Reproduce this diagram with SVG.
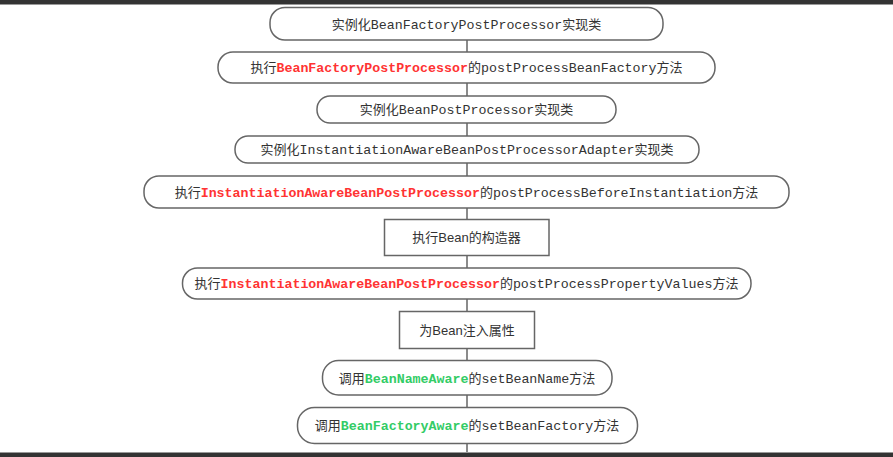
<svg xmlns="http://www.w3.org/2000/svg" width="893" height="457" viewBox="0 0 893 457">
<style>
.n{fill:#fff;stroke:#666;stroke-width:1.5}
.e{stroke:#666;stroke-width:1.5;fill:none}
text{fill:#333;text-anchor:middle}
.c{font-family:"Noto Sans CJK SC","Liberation Sans",sans-serif;font-size:13px}
.s{font-family:"Liberation Sans","Noto Sans CJK SC",sans-serif;font-size:13px}
.m{font-family:"Liberation Mono",monospace;font-size:13.3px}
.r{fill:#f33;font-weight:bold}
.g{fill:#33cc66;font-weight:bold}
</style>
<rect x="0" y="0" width="893" height="457" fill="#fff"/>
<g id="connectors">
<path class="e" d="M467 40V52M467 83V96M467 123V136M467 163V176M467 208V219.5M467 255.5V268M467 299V311.5M467 348.5V360.5M467 395V407.5M467 443.5V457"/>
</g>
<g id="n1"><rect class="n" x="270" y="7.5" width="393" height="32.5" rx="15"/>
<text x="466.5" y="28.5"><tspan class="c">实例化</tspan><tspan class="m">BeanFactoryPostProcessor</tspan><tspan class="c">实现类</tspan></text></g>
<g id="n2"><rect class="n" x="218" y="52" width="497" height="31" rx="15"/>
<text x="466.5" y="72"><tspan class="c">执行</tspan><tspan class="m r">BeanFactoryPostProcessor</tspan><tspan class="c">的</tspan><tspan class="m">postProcessBeanFactory</tspan><tspan class="c">方法</tspan></text></g>
<g id="n3"><rect class="n" x="317" y="96" width="299" height="27" rx="13"/>
<text x="466.5" y="114"><tspan class="c">实例化</tspan><tspan class="m">BeanPostProcessor</tspan><tspan class="c">实现类</tspan></text></g>
<g id="n4"><rect class="n" x="235" y="136" width="464" height="27" rx="13"/>
<text x="467" y="154"><tspan class="c">实例化</tspan><tspan class="m">InstantiationAwareBeanPostProcessorAdapter</tspan><tspan class="c">实现类</tspan></text></g>
<g id="n5"><rect class="n" x="144" y="176" width="645" height="32" rx="15"/>
<text x="466.5" y="196.5"><tspan class="c">执行</tspan><tspan class="m r">InstantiationAwareBeanPostProcessor</tspan><tspan class="c">的</tspan><tspan class="m">postProcessBeforeInstantiation</tspan><tspan class="c">方法</tspan></text></g>
<g id="n6"><rect class="n" x="384.5" y="219.5" width="164.5" height="36"/>
<text class="s" x="466.5" y="242">执行Bean的构造器</text></g>
<g id="n7"><rect class="n" x="182.5" y="268" width="568.5" height="31" rx="15"/>
<text x="466.5" y="288"><tspan class="c">执行</tspan><tspan class="m r">InstantiationAwareBeanPostProcessor</tspan><tspan class="c">的</tspan><tspan class="m">postProcessPropertyValues</tspan><tspan class="c">方法</tspan></text></g>
<g id="n8"><rect class="n" x="399.5" y="311.5" width="135" height="37"/>
<text class="s" x="467" y="334.5">为Bean注入属性</text></g>
<g id="n9"><rect class="n" x="322.5" y="360.5" width="289.5" height="34.5" rx="16"/>
<text x="467" y="382.5"><tspan class="c">调用</tspan><tspan class="m g">BeanNameAware</tspan><tspan class="c">的</tspan><tspan class="m">setBeanName</tspan><tspan class="c">方法</tspan></text></g>
<g id="n10"><rect class="n" x="297.5" y="407.5" width="340" height="36" rx="17"/>
<text x="467" y="430"><tspan class="c">调用</tspan><tspan class="m g">BeanFactoryAware</tspan><tspan class="c">的</tspan><tspan class="m">setBeanFactory</tspan><tspan class="c">方法</tspan></text></g>
<rect x="0" y="0" width="893" height="4" fill="#333"/>
<rect x="0" y="4" width="893" height="1" fill="#999"/>
<rect x="0" y="452" width="893" height="1" fill="#999"/>
<rect x="0" y="453" width="893" height="4" fill="#333"/>
</svg>
